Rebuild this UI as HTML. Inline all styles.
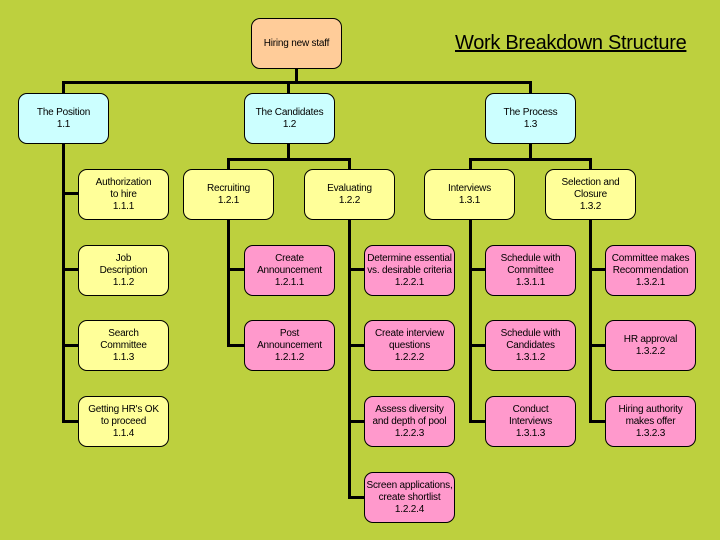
<!DOCTYPE html>
<html><head><meta charset="utf-8"><style>
body{margin:0}
#c{position:relative;width:720px;height:540px;background:#BDD03E;overflow:hidden;font-family:"Liberation Sans",sans-serif}
.b{position:absolute;box-sizing:border-box;border:1px solid #000;border-radius:9px;display:flex;align-items:center;justify-content:center;text-align:center;font-size:10px;line-height:12px;color:#000;width:91px;height:51px;letter-spacing:-0.2px}
.r{background:#FFCC99}.c{background:#CCFFFF}.y{background:#FFFF99}.p{background:#FF99CC}
.l{position:absolute;background:#000}
.t{position:absolute;left:455px;top:32px;font-size:20px;text-decoration:underline;letter-spacing:-0.3px}
</style></head><body><div id="c">
<!-- lines -->
<div class="l" style="left:295px;top:68px;width:3px;height:16px"></div>
<div class="l" style="left:62px;top:81px;width:470px;height:3px"></div>
<div class="l" style="left:62px;top:81px;width:3px;height:13px"></div>
<div class="l" style="left:287px;top:81px;width:3px;height:13px"></div>
<div class="l" style="left:529px;top:81px;width:3px;height:13px"></div>
<!-- position column -->
<div class="l" style="left:62px;top:144px;width:3px;height:279px"></div>
<div class="l" style="left:62px;top:192px;width:16px;height:3px"></div>
<div class="l" style="left:62px;top:268px;width:16px;height:3px"></div>
<div class="l" style="left:62px;top:344px;width:16px;height:3px"></div>
<div class="l" style="left:62px;top:420px;width:16px;height:3px"></div>
<!-- candidates -->
<div class="l" style="left:287px;top:144px;width:3px;height:16px"></div>
<div class="l" style="left:227px;top:158px;width:124px;height:3px"></div>
<div class="l" style="left:227px;top:158px;width:3px;height:12px"></div>
<div class="l" style="left:348px;top:158px;width:3px;height:12px"></div>
<div class="l" style="left:227px;top:219px;width:3px;height:128px"></div>
<div class="l" style="left:227px;top:268px;width:17px;height:3px"></div>
<div class="l" style="left:227px;top:344px;width:17px;height:3px"></div>
<div class="l" style="left:348px;top:219px;width:3px;height:280px"></div>
<div class="l" style="left:348px;top:268px;width:16px;height:3px"></div>
<div class="l" style="left:348px;top:344px;width:16px;height:3px"></div>
<div class="l" style="left:348px;top:420px;width:16px;height:3px"></div>
<div class="l" style="left:348px;top:496px;width:16px;height:3px"></div>
<!-- process -->
<div class="l" style="left:529px;top:144px;width:3px;height:16px"></div>
<div class="l" style="left:469px;top:158px;width:123px;height:3px"></div>
<div class="l" style="left:469px;top:158px;width:3px;height:12px"></div>
<div class="l" style="left:589px;top:158px;width:3px;height:12px"></div>
<div class="l" style="left:469px;top:219px;width:3px;height:204px"></div>
<div class="l" style="left:469px;top:268px;width:16px;height:3px"></div>
<div class="l" style="left:469px;top:344px;width:16px;height:3px"></div>
<div class="l" style="left:469px;top:420px;width:16px;height:3px"></div>
<div class="l" style="left:589px;top:219px;width:3px;height:204px"></div>
<div class="l" style="left:589px;top:268px;width:16px;height:3px"></div>
<div class="l" style="left:589px;top:344px;width:16px;height:3px"></div>
<div class="l" style="left:589px;top:420px;width:16px;height:3px"></div>

<div class="t">Work Breakdown Structure</div>
<div class="b r" style="left:251px;top:18px">Hiring new staff</div>
<div class="b c" style="left:18px;top:93px">The Position<br>1.1</div>
<div class="b c" style="left:244px;top:93px">The Candidates<br>1.2</div>
<div class="b c" style="left:485px;top:93px">The Process<br>1.3</div>

<div class="b y" style="left:78px;top:169px">Authorization<br>to hire<br>1.1.1</div>
<div class="b y" style="left:183px;top:169px">Recruiting<br>1.2.1</div>
<div class="b y" style="left:304px;top:169px">Evaluating<br>1.2.2</div>
<div class="b y" style="left:424px;top:169px">Interviews<br>1.3.1</div>
<div class="b y" style="left:545px;top:169px">Selection and<br>Closure<br>1.3.2</div>

<div class="b y" style="left:78px;top:245px">Job<br>Description<br>1.1.2</div>
<div class="b y" style="left:78px;top:320px">Search<br>Committee<br>1.1.3</div>
<div class="b y" style="left:78px;top:396px">Getting HR's OK<br>to proceed<br>1.1.4</div>

<div class="b p" style="left:244px;top:245px">Create<br>Announcement<br>1.2.1.1</div>
<div class="b p" style="left:244px;top:320px">Post<br>Announcement<br>1.2.1.2</div>

<div class="b p" style="left:364px;top:245px">Determine essential<br>vs. desirable criteria<br>1.2.2.1</div>
<div class="b p" style="left:364px;top:320px">Create interview<br>questions<br>1.2.2.2</div>
<div class="b p" style="left:364px;top:396px">Assess diversity<br>and depth of pool<br>1.2.2.3</div>
<div class="b p" style="left:364px;top:472px">Screen applications,<br>create shortlist<br>1.2.2.4</div>

<div class="b p" style="left:485px;top:245px">Schedule with<br>Committee<br>1.3.1.1</div>
<div class="b p" style="left:485px;top:320px">Schedule with<br>Candidates<br>1.3.1.2</div>
<div class="b p" style="left:485px;top:396px">Conduct<br>Interviews<br>1.3.1.3</div>

<div class="b p" style="left:605px;top:245px">Committee makes<br>Recommendation<br>1.3.2.1</div>
<div class="b p" style="left:605px;top:320px">HR approval<br>1.3.2.2</div>
<div class="b p" style="left:605px;top:396px">Hiring authority<br>makes offer<br>1.3.2.3</div>
</div></body></html>
